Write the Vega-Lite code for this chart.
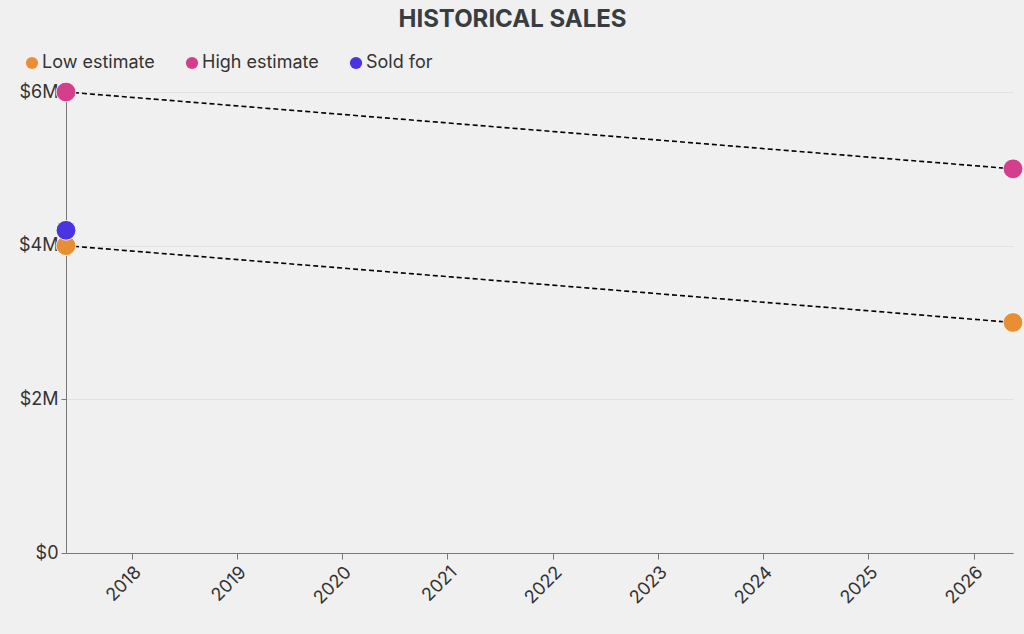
{
  "$schema": "https://vega.github.io/schema/vega-lite/v6.json",
  "width": 947,
  "height": 461,
  "autosize": {"type": "none"},
  "padding": {"left": 66, "top": 92, "right": 11, "bottom": 81},
  "background": "#f0f0f0",
  "config": {
    "font": "Inter",
    "view": {"stroke": null}
  },
  "title": {
    "text": "HISTORICAL SALES",
    "fontSize": 24,
    "fontWeight": "bold",
    "color": "#373d40",
    "font": "Inter",
    "anchor": "middle",
    "dx": -27,
    "offset": 22
  },
  "data": {
    "values": [
      {"date": "2017-05-18", "value": 4000000, "series": "Low estimate"},
      {"date": "2026-05-18", "value": 3000000, "series": "Low estimate"},
      {"date": "2017-05-18", "value": 6000000, "series": "High estimate"},
      {"date": "2026-05-18", "value": 5000000, "series": "High estimate"},
      {"date": "2017-05-18", "value": 4200000, "series": "Sold for"}
    ]
  },
  "layer": [
    {
      "mark": {"type": "line", "color": "black", "strokeDash": [5, 3], "strokeWidth": 1.6},
      "transform": [{"filter": "datum.series != 'Sold for'"}],
      "encoding": {
        "x": {"field": "date", "type": "temporal"},
        "y": {"field": "value", "type": "quantitative"},
        "detail": {"field": "series"}
      }
    },
    {
      "mark": {"type": "point", "filled": true, "size": 390, "opacity": 1, "stroke": "white", "strokeWidth": 0.8},
      "encoding": {
        "x": {
          "field": "date",
          "type": "temporal",
          "scale": {"domain": ["2017-05-18", "2026-05-18"], "nice": false},
          "axis": {
            "title": null,
            "format": "%Y",
            "tickCount": {"interval": "year", "step": 1},
            "labelAngle": -45,
            "labelFontSize": 18,
            "labelColor": "#333",
            "labelFont": "Inter",
            "domainColor": "#777",
            "tickColor": "#777",
            "grid": false,
            "tickSize": 6,
            "labelPadding": 4
          }
        },
        "y": {
          "field": "value",
          "type": "quantitative",
          "scale": {"domain": [0, 6000000], "nice": false},
          "axis": {
            "title": null,
            "values": [0, 2000000, 4000000, 6000000],
            "labelExpr": "datum.value == 0 ? '$0' : '$' + (datum.value / 1000000) + 'M'",
            "labelFontSize": 18,
            "labelColor": "#333",
            "labelFont": "Inter",
            "domainColor": "#777",
            "tickColor": "#777",
            "gridColor": "#e2e2e2",
            "tickSize": 5,
            "labelPadding": 3
          }
        },
        "color": {
          "field": "series",
          "type": "nominal",
          "scale": {
            "domain": ["Low estimate", "High estimate", "Sold for"],
            "range": ["#e88f35", "#d43f8c", "#4a33e0"]
          },
          "legend": {
            "title": null,
            "orient": "none",
            "legendX": -43,
            "legendY": -38,
            "direction": "horizontal",
            "symbolType": "circle",
            "symbolSize": 150,
            "symbolStrokeWidth": 0,
            "labelFontSize": 18,
            "labelColor": "#333",
            "labelFont": "Inter",
            "labelOffset": 1,
            "columnPadding": 28
          }
        }
      }
    }
  ]
}
